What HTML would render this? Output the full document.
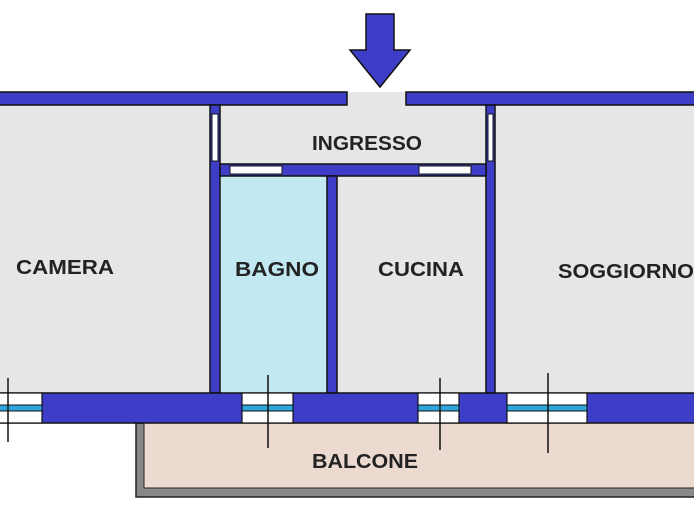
<!DOCTYPE html>
<html><head><meta charset="utf-8"><style>
html,body{margin:0;padding:0;background:#fff;}
svg{display:block}
text{font-family:"Liberation Sans",sans-serif;font-weight:bold;font-size:20px;fill:#222;text-anchor:middle}
</style></head><body>
<svg width="694" height="520" viewBox="0 0 694 520" xmlns="http://www.w3.org/2000/svg">
<rect x="0" y="105" width="210" height="288" fill="#e6e6e6"/>
<rect x="220" y="105" width="266" height="59" fill="#e6e6e6"/>
<rect x="221" y="176" width="106" height="217" fill="#c2e8f1"/>
<rect x="337" y="176" width="149" height="217" fill="#e6e6e6"/>
<rect x="495" y="105" width="199" height="288" fill="#e6e6e6"/>
<rect x="347" y="92" width="59" height="14" fill="#e6e6e6"/>
<rect x="136" y="423" width="560" height="74" fill="#888" stroke="#222" stroke-width="1.5"/>
<rect x="144" y="423" width="552" height="65" fill="#ecdad0" stroke="#222" stroke-width="1"/>
<rect x="-2" y="92" width="349" height="13" fill="#3d3dc8" stroke="#111" stroke-width="1.5"/>
<rect x="406" y="92" width="290" height="13" fill="#3d3dc8" stroke="#111" stroke-width="1.5"/>
<rect x="210" y="105" width="10" height="288" fill="#3d3dc8" stroke="#111" stroke-width="1.5"/>
<rect x="212" y="114" width="6" height="47" fill="#fff" stroke="#111" stroke-width="1"/>
<rect x="486" y="105" width="9" height="288" fill="#3d3dc8" stroke="#111" stroke-width="1.5"/>
<rect x="488" y="114" width="5" height="47" fill="#fff" stroke="#111" stroke-width="1"/>
<rect x="220" y="164" width="266" height="12" fill="#3d3dc8" stroke="#111" stroke-width="1.5"/>
<rect x="230" y="166" width="52" height="8" fill="#fff" stroke="#111" stroke-width="1"/>
<rect x="419" y="166" width="52" height="8" fill="#fff" stroke="#111" stroke-width="1"/>
<rect x="327" y="176" width="10" height="217" fill="#3d3dc8" stroke="#111" stroke-width="1.5"/>
<rect x="-2" y="393" width="698" height="30" fill="#3d3dc8" stroke="#111" stroke-width="1.5"/>
<g stroke="#111" stroke-width="1.2">
<rect x="-2" y="393" width="44" height="30" fill="#fff"/>
<rect x="242" y="393" width="51" height="30" fill="#fff"/>
<rect x="418" y="393" width="41" height="30" fill="#fff"/>
<rect x="507" y="393" width="80" height="30" fill="#fff"/>
</g>
<g fill="#2aa8dc" stroke="#111" stroke-width="1">
<rect x="-2" y="405" width="44" height="6"/>
<rect x="242" y="405" width="51" height="6"/>
<rect x="418" y="405" width="41" height="6"/>
<rect x="507" y="405" width="80" height="6"/>
</g>
<g stroke="#111" stroke-width="1.5">
<line x1="8" y1="378" x2="8" y2="442"/>
<line x1="268" y1="375" x2="268" y2="448"/>
<line x1="440" y1="378" x2="440" y2="450"/>
<line x1="548" y1="373" x2="548" y2="453"/>
</g>
<polygon points="366,14 394,14 394,50 410,50 380,87 350,50 366,50" fill="#3d3dc8" stroke="#111" stroke-width="1.5"/>
<text x="367" y="150" textLength="110" lengthAdjust="spacingAndGlyphs">INGRESSO</text>
<text x="65" y="274" textLength="98" lengthAdjust="spacingAndGlyphs">CAMERA</text>
<text x="277" y="276" textLength="84" lengthAdjust="spacingAndGlyphs">BAGNO</text>
<text x="421" y="276" textLength="86" lengthAdjust="spacingAndGlyphs">CUCINA</text>
<text x="626" y="278" textLength="136" lengthAdjust="spacingAndGlyphs">SOGGIORNO</text>
<text x="365" y="468" textLength="106" lengthAdjust="spacingAndGlyphs">BALCONE</text>
</svg>
</body></html>
